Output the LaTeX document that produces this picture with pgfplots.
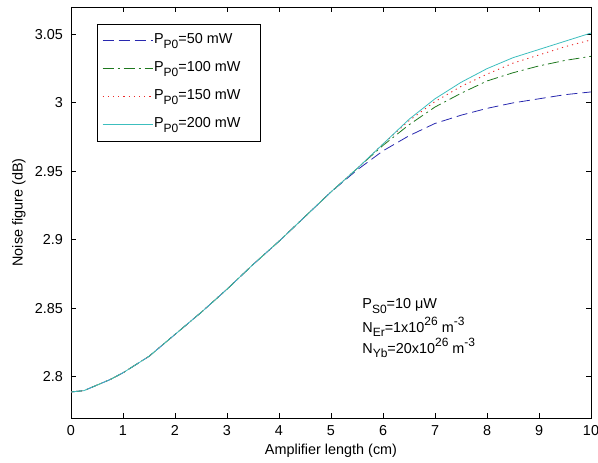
\documentclass[border=0pt]{standalone}
\usepackage{fontspec}
\setmainfont{Liberation Sans}
\usepackage{pgfplots}
\pgfplotsset{compat=1.18}
\definecolor{cblue}{RGB}{40,40,175}
\definecolor{cgreen}{RGB}{30,120,30}
\definecolor{cred}{RGB}{235,40,40}
\definecolor{ccyan}{RGB}{60,190,190}
\newcommand\sub[1]{\raisebox{-0.32em}{\fontsize{12bp}{13bp}\selectfont #1}}
\newcommand\sups[1]{\raisebox{0.45em}{\fontsize{12bp}{13bp}\selectfont #1}}
\newcommand\fs{\fontsize{14.4bp}{17bp}\selectfont}
\pgfplotstableread{
x y
0 2.789
0.25 2.790
0.5 2.794
0.75 2.798
1 2.803
1.5 2.815
2 2.831
2.5 2.847
3 2.864
3.5 2.882
4 2.899
4.5 2.917
5 2.935
5.5 2.951
6 2.965
6.5 2.976
7 2.985
7.5 2.991
8 2.996
8.5 3.000
9 3.003
9.5 3.006
10 3.008
}\tfifty
\pgfplotstableread{
x y
0 2.789
0.25 2.790
0.5 2.794
0.75 2.798
1 2.803
1.5 2.815
2 2.831
2.5 2.847
3 2.864
3.5 2.882
4 2.899
4.5 2.917
5 2.935
5.5 2.952
6 2.969
6.5 2.984
7 2.997
7.5 3.007
8 3.016
8.5 3.022
9 3.027
9.5 3.031
10 3.034
}\thundred
\pgfplotstableread{
x y
0 2.789
0.25 2.790
0.5 2.794
0.75 2.798
1 2.803
1.5 2.815
2 2.831
2.5 2.847
3 2.864
3.5 2.882
4 2.899
4.5 2.917
5 2.935
5.5 2.952
6 2.970
6.5 2.987
7 3.001
7.5 3.012
8 3.021
8.5 3.029
9 3.035
9.5 3.041
10 3.046
}\tonefifty
\pgfplotstableread{
x y
0 2.789
0.25 2.790
0.5 2.794
0.75 2.798
1 2.803
1.5 2.815
2 2.831
2.5 2.847
3 2.864
3.5 2.882
4 2.899
4.5 2.917
5 2.935
5.5 2.952
6 2.970
6.5 2.988
7 3.003
7.5 3.015
8 3.025
8.5 3.033
9 3.039
9.5 3.045
10 3.051
}\ttwohundred
\begin{document}
\fs
\begin{tikzpicture}
\useasboundingbox (0,0) rectangle (598bp,463bp);
\begin{axis}[
  at={(71bp,45bp)}, anchor=south west,
  scale only axis, width=520bp, height=411bp,
  xmin=0, xmax=10, ymin=2.77, ymax=3.07,
  xtick={0,1,...,10}, ytick={2.8,2.85,2.9,2.95,3,3.05},
  tick align=inside, major tick length=5bp,
  axis line style={line width=0.8bp},
  every tick/.style={black, line width=0.8bp},
  /pgf/number format/assume math mode=true,
  ticklabel style={font=\fs},
  yticklabel style={/pgf/number format/fixed, /pgf/number format/precision=2, inner sep=0pt, xshift=-8bp},
  xticklabel style={inner sep=0pt, yshift=-7bp},
  xlabel={Amplifier length (cm)}, ylabel={Noise figure (dB)},
  label style={font=\fs},
  xlabel style={at={(axis description cs:0.5,-0.0803)}, anchor=center},
  ylabel style={at={(axis description cs:-0.100,0.5)}, anchor=center, rotate=0},
  legend cell align=left,
  legend image code/.code={\draw[#1] (0bp,0bp) -- (50bp,0bp);},
  legend style={at={(0.05,0.959)}, anchor=north west, draw=black, fill=white,
    font=\fs, inner xsep=5bp, inner ysep=8bp, row sep=11bp,
    nodes={inner sep=1bp, text height=10.5bp, text depth=4.5bp}},
]
\addplot[cblue, line width=0.8bp, dash pattern=on 11bp off 5bp] table {\tfifty};
\addlegendentry{P\sub{P0}=50 mW\rule{14bp}{0pt}}
\addplot[cgreen, line width=0.8bp, dash pattern=on 11bp off 4bp on 2bp off 4bp] table {\thundred};
\addlegendentry{P\sub{P0}=100 mW\rule{14bp}{0pt}}
\addplot[cred, line width=0.9bp, dash pattern=on 1.2bp off 4bp] table {\tonefifty};
\addlegendentry{P\sub{P0}=150 mW\rule{14bp}{0pt}}
\addplot[ccyan, line width=0.8bp] table {\ttwohundred};
\addlegendentry{P\sub{P0}=200 mW\rule{14bp}{0pt}}
\node[anchor=west, inner sep=0pt] at (axis cs:5.6,2.8517) {P\sub{S0}=10 μW};
\node[anchor=west, inner sep=0pt] at (axis cs:5.6,2.8364) {N\sub{Er}=1x10\sups{26} m\sups{-3}};
\node[anchor=west, inner sep=0pt] at (axis cs:5.6,2.8211) {N\sub{Yb}=20x10\sups{26} m\sups{-3}};
\end{axis}
\end{tikzpicture}
\end{document}
